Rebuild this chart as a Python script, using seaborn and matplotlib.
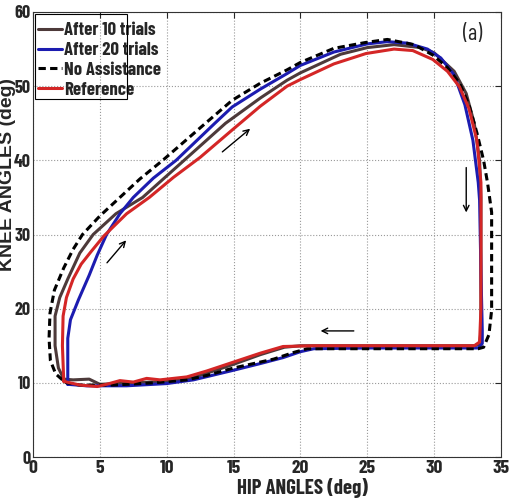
import numpy as np
import pandas as pd
import matplotlib
matplotlib.use("Agg")
import matplotlib.pyplot as plt
from matplotlib.patches import Rectangle
import seaborn as sns

# hip / knee angle loops (deg)
ref_hip = [2.3, 2.2, 2.25, 2.5, 3.0, 3.6, 4.3, 5.3, 7.0, 8.7, 10.5, 12.5, 14.9, 17, 19, 20,
           22.5, 24.9, 27, 28.4, 29.9, 31, 31.9, 32.6, 33.2, 33.5, 33.5, 33.5, 33.4, 33.0, 30,
           25, 21, 18.7, 17, 15, 13, 11.5, 9.5, 8.5, 7.5, 6.5, 5.5, 4.8, 3.5, 2.3]
ref_knee = [10.2, 15, 19, 21.5, 24, 26, 27.6, 29.8, 32.8, 35, 37.7, 40.4, 44.1, 47.3, 50,
            50.9, 53, 54.4, 55, 54.8, 53.6, 52, 49.9, 47, 42.7, 37, 30, 20, 15.5, 15, 15, 15,
            15, 14.9, 14, 12.8, 11.6, 10.8, 10.4, 10.6, 10.1, 10.3, 9.8, 9.5, 9.7, 10.2]

t10_hip = [2.3, 1.9, 1.65, 1.65, 2.0, 2.6, 3.5, 4.5, 6.2, 8.2, 11.3, 14.4, 17, 19, 20, 23, 25,
           27, 29, 30, 31.5, 32.4, 33, 33.4, 33.5, 33.5, 33.5, 33.4, 33, 25, 20, 18.8, 17, 15,
           12, 10, 5, 4.2, 3, 2.3]
t10_knee = [10.5, 12, 15, 19, 21.5, 24, 27.5, 30, 32.8, 35, 40, 45, 48.4, 50.8, 51.8, 54.3,
            55.2, 55.6, 55.2, 54.5, 52, 49, 45, 40, 35, 25, 17, 15.2, 15, 15, 15, 14.8, 13.8,
            12.5, 10.7, 10.2, 9.8, 10.5, 10.4, 10.5]

t20_hip = [2.6, 2.6, 2.8, 3.4, 4.2, 4.8, 5.5, 6.5, 7.5, 9, 10.7, 13.6, 14.9, 17, 19, 20, 22.5,
           25, 26.5, 28, 29.5, 30.5, 31.5, 32.3, 32.9, 33.3, 33.4, 33.5, 33.6, 33.6, 33.3, 30,
           25, 21, 20, 18.7, 17, 15, 12, 10, 7, 4, 2.6]
t20_knee = [9.8, 16, 18.5, 21.2, 24.5, 27.2, 30, 32.8, 35, 37.6, 40, 45, 47.2, 49.6, 51.7,
            52.8, 54.6, 55.7, 56, 55.8, 55, 53.8, 51.5, 47.5, 42.7, 37, 34.6, 25, 17, 15.3,
            14.7, 14.7, 14.7, 14.6, 14.2, 13.4, 12.6, 11.7, 10.4, 9.9, 9.6, 9.6, 9.8]

none_hip = [2.2, 1.7, 1.3, 1.2, 1.27, 1.6, 2.3, 3.0, 3.7, 5.0, 6.5, 8.0, 9.7, 12.9, 14.9, 17,
            19, 20, 22.5, 24.9, 26.5, 28.5, 29.9, 31, 31.9, 32.6, 33.2, 33.7, 34.0, 34.3, 34.3,
            34.3, 34.1, 33.7, 33.3, 30, 25, 20.5, 19.5, 18, 15, 13, 11.5, 9, 6, 3.5, 2.5, 2.2]
none_knee = [10.4, 11.2, 13, 16, 19.4, 22.5, 25.5, 28, 30, 32.5, 35, 37.5, 40, 45, 48.1,
             50.4, 52.2, 53.2, 55.1, 55.9, 56.3, 55.6, 54.2, 52.5, 50.4, 47.5, 43.7, 40, 36.9,
             33, 25, 19.8, 16.5, 14.8, 14.6, 14.6, 14.6, 14.6, 14.1, 13.2, 12.0, 11.0, 10.4,
             10.0, 9.7, 9.7, 10.0, 10.4]

series = [
    ("After 10 trials", t10_hip, t10_knee, "#4d3a3a", "-"),
    ("After 20 trials", t20_hip, t20_knee, "#1c1cb0", "-"),
    ("No Assistance", none_hip, none_knee, "black", (0, (2.4, 1.4))),
    ("Reference", ref_hip, ref_knee, "#d42626", "-"),
]

sns.set_style("white")
narrow = ['Barlow Condensed', 'DejaVu Sans']
plt.rcParams['font.family'] = narrow

fig = plt.figure(figsize=(5.19, 5.0), dpi=100)
ax = fig.add_axes([0.0636, 0.086, 0.9017, 0.89])

for name, h, k, c, ls in series:
    df = pd.DataFrame({"hip": h, "knee": k})
    sns.lineplot(data=df, x="hip", y="knee", sort=False, estimator=None, ax=ax,
                 color=c, linestyle=ls, linewidth=2.2, label=name)

# direction arrows
arrows = [((5.4, 25.9), (7.1, 29.5)), ((14.0, 40.9), (16.4, 44.5)),
          ((32.4, 39.4), (32.4, 32.6)), ((24.2, 17.0), (21.3, 17.0))]
for (x0, y0), (x1, y1) in arrows:
    ax.annotate("", xy=(x1, y1), xytext=(x0, y0),
                arrowprops=dict(arrowstyle="->", color="black", lw=1.0))

ax.text(32.9, 56.9, "(a)", fontsize=16, ha="center", va="center")

ax.set_xlim(0, 35)
ax.set_ylim(0, 60)
ax.set_xticks(range(0, 36, 5))
ax.set_yticks(range(0, 61, 10))
ax.grid(True, linestyle=":", color="#999999", linewidth=0.8)
ax.tick_params(direction="in", top=True, right=True, length=4, labelsize=14, pad=2)
ax.tick_params(axis="y", labelsize=13, pad=1.5)
for lab in ax.get_xticklabels() + ax.get_yticklabels():
    lab.set_fontweight("bold")
for sp in ax.spines.values():
    sp.set_color("#333333")
    sp.set_linewidth(0.8)

ax.set_xlabel("HIP ANGLES (deg)", fontsize=15, fontweight="bold")
ax.xaxis.set_label_coords(0.575, -0.048)
ax.set_ylabel("KNEE ANGLES (deg)", fontsize=14, fontweight="bold",
              family=['Liberation Sans', 'DejaVu Sans'])
ax.yaxis.set_label_coords(-0.037, 0.634)

leg = ax.legend(loc="upper left", bbox_to_anchor=(38 / 519, 1 - 22 / 500),
                bbox_transform=fig.transFigure, frameon=False, borderpad=0,
                borderaxespad=0, handlelength=1.3, handletextpad=0.1, labelspacing=0.15,
                prop={'family': narrow, 'size': 13.5, 'weight': 'bold'})
# legend box is narrower than its text in the original
fig.patches.append(Rectangle((35 / 519, 1 - 99 / 500), 92 / 519, 85 / 500,
                             transform=fig.transFigure, fill=False, edgecolor="black",
                             linewidth=0.8, zorder=5))

fig.savefig("out.png", dpi=100)
